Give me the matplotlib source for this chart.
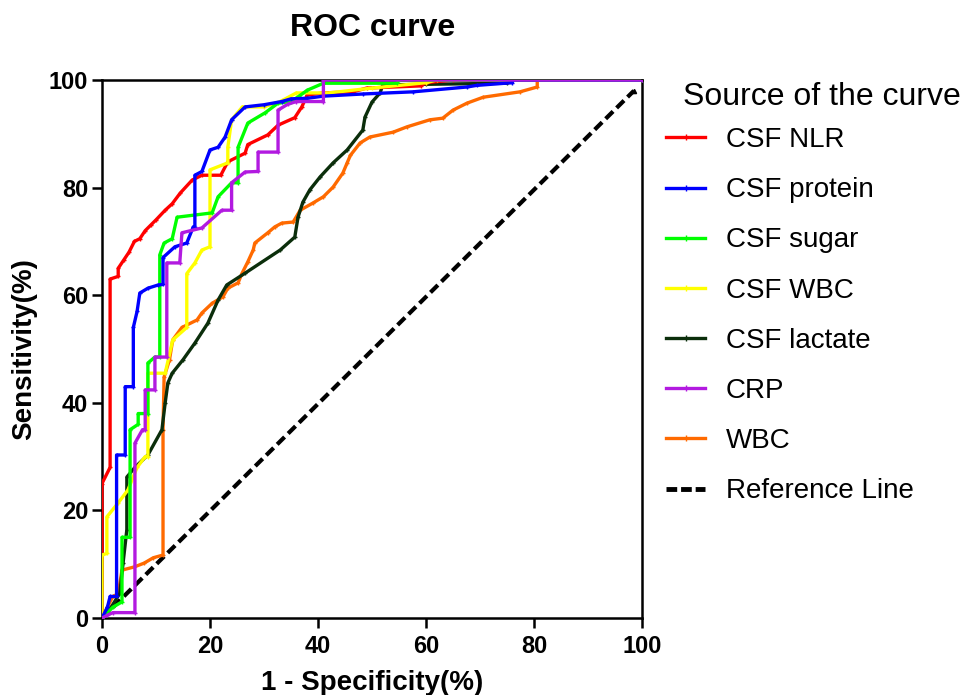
import matplotlib
matplotlib.use('Agg')
import matplotlib.pyplot as plt
from matplotlib.lines import Line2D

plt.rcParams['font.family'] = ['Liberation Sans', 'DejaVu Sans']

# ROC curves: (1 - specificity %, sensitivity %)
nlr_x = [0, 0, 1.5, 1.5, 3, 3, 4, 5, 6, 7, 8, 9, 10, 11.7, 13, 14.5, 16.7, 18.5, 22, 23.3,
         26.5, 27, 30.7, 32.6, 35.7, 37, 38, 41, 46.5, 49, 59, 60, 65, 100]
nlr_y = [0, 25, 28, 63, 63.5, 65, 66.5, 68, 70, 70.5, 72, 73, 74, 75.8, 77, 79, 81.4, 82.3, 82.3, 84.8,
         86.4, 88, 89.8, 91.6, 93, 95, 97.2, 97.6, 97.8, 98.5, 98.9, 99.5, 100, 100]

protein_x = [0, 1, 1.5, 2.7, 2.7, 4.3, 4.3, 5.8, 5.8, 6.5, 7, 8.5, 10.4, 11.3, 11.3, 13.5, 15.7, 16.9,
             17.2, 17.2, 18.5, 20, 21.5, 22.8, 24, 26.5, 30, 33.3, 35, 38, 41, 48.3, 57.6, 67.6,
             69.4, 76, 76, 100]
protein_y = [0, 2, 4, 4, 30.3, 30.3, 43, 43, 54, 57, 60.4, 61.3, 61.9, 62, 67, 69, 69.7, 72.7,
             72.7, 82.3, 83, 87, 87.5, 89.4, 92.6, 95, 95.4, 96, 96.5, 96.6, 97, 97.4, 97.8, 98.7,
             99, 99.5, 100, 100]

sugar_x = [0, 1, 2, 3.7, 3.7, 5.2, 5.2, 6.7, 6.7, 8.5, 8.5, 9.8, 10.7, 10.7, 11.5, 13, 13.9, 20.4,
           21.5, 24, 25.2, 25.2, 27, 30.2, 32.6, 35, 36.5, 38, 41, 54.6, 55, 100]
sugar_y = [0, 1, 2, 3, 15, 15, 35, 36, 38, 38, 47.4, 48.5, 48.5, 67.5, 69.7, 70.5, 74.5, 75.3,
           78.3, 80.9, 80.9, 87.5, 92, 93.9, 95.7, 96, 97, 98.1, 99.4, 99.4, 100, 100]

wbc_csf_x = [0, 0, 0.9, 0.9, 3, 4.8, 6.5, 8, 8.5, 8.5, 11.7, 13.1, 15.7, 15.7, 17.2, 18.5, 20, 20,
             23.3, 23.3, 24, 26, 30, 33, 36, 42, 50, 60, 62, 100]
wbc_csf_y = [0, 11.7, 12, 18.8, 21.4, 23.8, 28, 30, 30, 45.5, 45.5, 51.7, 54, 64, 66, 68.4, 69, 83.3,
             84.6, 87.5, 92.6, 95, 95, 96, 97.6, 97.6, 98.5, 99.5, 100, 100]

lactate_x = [0, 1, 2, 3.3, 3.9, 4.6, 4.6, 6.1, 8.5, 11.1, 11.7, 12.2, 13, 15, 17.2, 19.6, 21.5, 23.1,
             26.5, 33, 35.7, 36.3, 37.2, 38.5, 40.4, 42.8, 45.4, 48.3, 48.7, 50, 51.5, 52, 60, 75,
             76, 100]
lactate_y = [0, 1, 2.5, 4.6, 10.2, 16.4, 26.2, 28, 30.3, 35, 40, 43.7, 45.5, 48, 51.1, 54.8, 59.1, 61.9,
             64.1, 68.4, 70.8, 74.5, 77.3, 79.6, 82, 84.6, 87, 90.7, 93.1, 95.9, 97.6, 99.1, 99.2, 99.4,
             100, 100]

crp_x = [0, 1, 2, 6.1, 6.1, 7.5, 8, 8, 9.8, 9.8, 12, 12, 14.4, 14.8, 18.5, 22.2, 24, 24, 26.5, 28.9,
         28.9, 32.6, 32.6, 34.4, 36, 41, 41, 100]
crp_y = [0, 0.5, 1, 1, 32.5, 35, 35, 42.4, 42.4, 48.5, 48.5, 66, 66, 71.6, 72.5, 75.8, 75.8, 80.9,
         82.9, 83, 86.6, 86.6, 94.4, 95.5, 96, 96, 100, 100]

wbc_x = [0, 1, 2, 3, 3.7, 6, 7.8, 9.5, 11.3, 11.3, 11.5, 12.5, 13.1, 14.8, 17.6, 18.5, 20.4, 22.4,
         23.3, 25.2, 25.9, 27, 28, 28.3, 30.7, 32, 33.3, 35.4, 36.7, 39, 41, 42.8, 44.6, 45.4, 46,
         47.8, 49.6, 53.9, 56.5, 60.7, 63.1, 65, 67.6, 70.6, 77.4, 80.6, 80.6, 100]
wbc_y = [0, 2, 4, 4.5, 8.9, 9.5, 10.2, 11.2, 11.7, 35, 44.8, 48, 51.7, 54, 55.4, 56.7, 58.5, 59.7,
         61.3, 62.3, 64, 66.2, 68.4, 69.7, 71.6, 72.7, 73.4, 73.6, 75.8, 77.1, 78.3, 80.1, 82.7, 84.6,
         86, 88.3, 89.4, 90.3, 91.3, 92.6, 92.9, 94.4, 95.7, 96.8, 97.8, 98.7, 100, 100]

ref_x = [0, 98.5]
ref_y = [0, 98]

labels = ['CSF NLR', 'CSF protein', 'CSF sugar', 'CSF WBC', 'CSF lactate', 'CRP', 'WBC']
colors = ['#ff0000', '#0000ff', '#00ff00', '#ffff00', '#0b2e0b', '#b21ae0', '#ff6a00']
curves = [(nlr_x, nlr_y), (protein_x, protein_y), (sugar_x, sugar_y), (wbc_csf_x, wbc_csf_y),
          (lactate_x, lactate_y), (crp_x, crp_y), (wbc_x, wbc_y)]

fig = plt.figure(figsize=(9.63, 6.95), dpi=100)
ax = fig.add_axes([102 / 963, 1 - 618 / 695, 540 / 963, 538 / 695])

ax.plot(ref_x, ref_y, color='black', lw=3, ls=(0, (2.5, 1.2)), marker='^', ms=3,
        markevery=0.04, zorder=2)
order = [6, 4, 0, 3, 2, 1, 5]
for i in order:
    x, y = curves[i]
    ax.plot(x, y, color=colors[i], lw=2.4, marker='+', ms=3, mew=1, zorder=3)

ax.set_xlim(0, 100)
ax.set_ylim(0, 100)
ax.set_xticks(range(0, 101, 20))
ax.set_yticks(range(0, 101, 20))
for s in ax.spines.values():
    s.set_linewidth(1.8)
ax.tick_params(length=7, width=1.8, labelsize=17)
ax.tick_params(axis='x', pad=5)
ax.tick_params(axis='y', pad=3)
for lab in ax.get_xticklabels() + ax.get_yticklabels():
    lab.set_fontweight('bold')

ax.set_xlabel('1 - Specificity(%)', fontsize=20, fontweight='bold', labelpad=9)
ax.set_ylabel('Sensitivity(%)', fontsize=20, fontweight='bold', labelpad=8)
fig.text(373 / 963, 1 - 28 / 695, 'ROC curve', fontsize=23, fontweight='bold',
         ha='center', va='center')

handles = [Line2D([], [], color=c, lw=2.4, marker='|', ms=4) for c in colors]
handles.append(Line2D([], [], color='black', lw=3.5, ls=(0, (2.2, 0.8))))
fig.text(683 / 963, 1 - 97 / 695, 'Source of the curve', fontsize=23, ha='left', va='center')
fig.legend(handles, labels + ['Reference Line'], loc='upper left',
           bbox_to_anchor=(655 / 963, 1 - 116 / 695), frameon=False, fontsize=20,
           handlelength=1.4, handletextpad=0.75, labelspacing=0.87, borderaxespad=0)

fig.savefig('out.png', dpi=100)
